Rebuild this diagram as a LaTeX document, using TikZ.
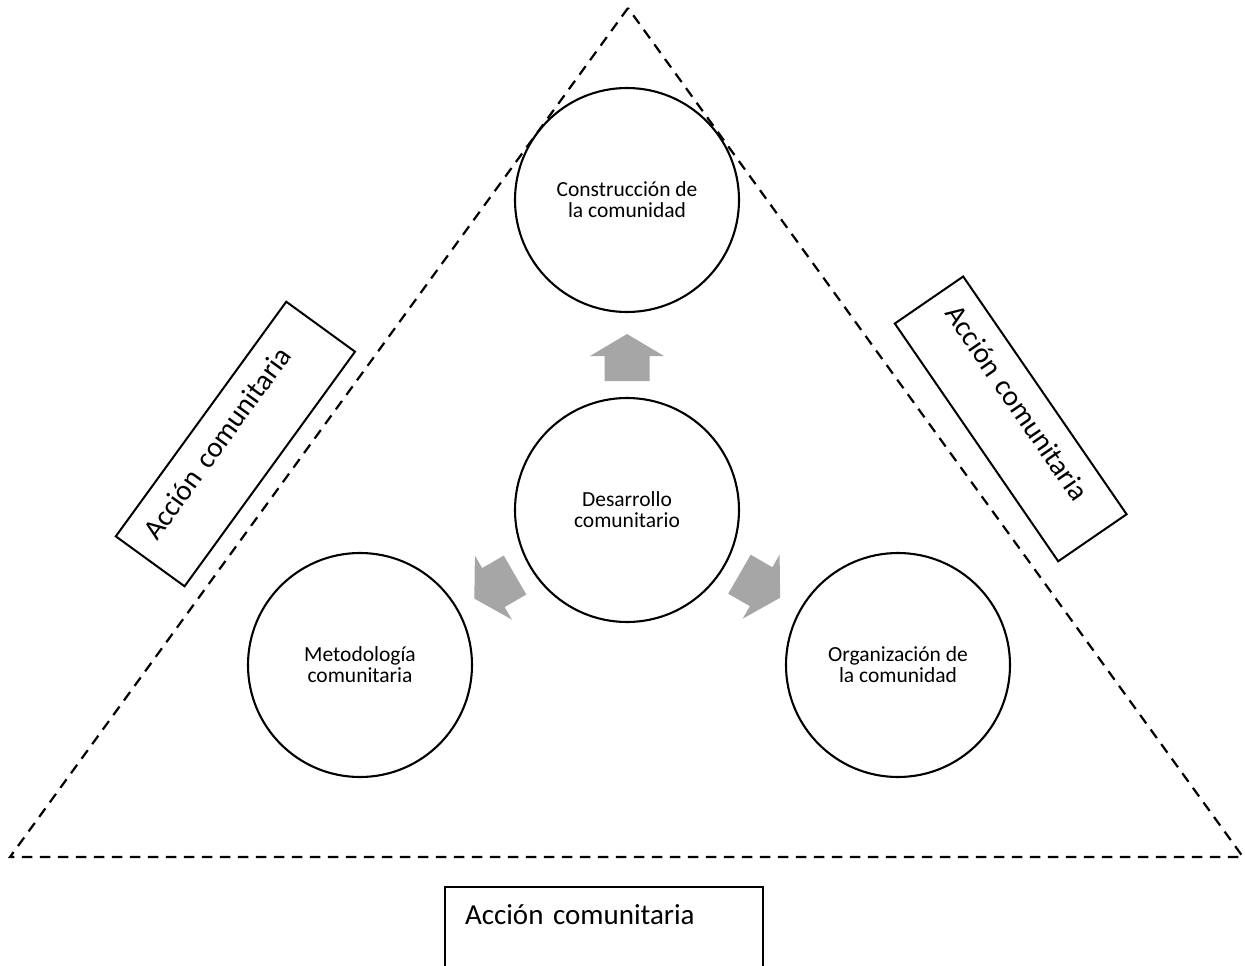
\documentclass[tikz,border=0pt]{standalone}
\usepackage{fontspec}
\setmainfont{Carlito}
\usetikzlibrary{calc}
\definecolor{arrowgray}{RGB}{166,166,166}

\tikzset{
  bubble/.style={circle, draw, line width=2.1pt, minimum size=224pt,
    inner sep=0pt, align=center, font=\fontsize{21.5}{21}\selectfont},
  tagbox/.style={draw, line width=2pt, inner xsep=20pt, inner ysep=0pt,
    text height=37pt, align=left, font=\fontsize{29}{34}\selectfont},
  frameline/.style={line width=2.2pt, dash pattern=on 10.5pt off 7.5pt, line join=miter},
  blockarrow/.pic={
    \fill[arrowgray] (0,23.5) -- (37,1.5) -- (22.5,1.5) -- (22.5,-23.5)
      -- (-22.5,-23.5) -- (-22.5,1.5) -- (-37,1.5) -- cycle;
  }
}

\begin{document}
\begin{tikzpicture}[x=1pt, y=1pt]
  \path[use as bounding box, clip] (0,0) rectangle (1245,-966);

  % dashed frame
  \coordinate (apex) at (628,-8);
  \coordinate (bl) at (10,-857);
  \coordinate (br) at (1243,-857);
  \draw[frameline] (apex) -- (bl) -- (br) -- cycle;

  % circles
  \node[bubble] (top) at (627,-200) {Construcción de\\la comunidad};
  \node[bubble] (dev) at (627,-510) {Desarrollo\\comunitario};
  \node[bubble] (met) at (360,-665) {Metodología\\comunitaria};
  \node[bubble] (org) at (898,-665) {Organización de\\la comunidad};

  % block arrows from the centre circle
  \pic[rotate=0] at ($(dev)!152.5pt!(top)$) {blockarrow};
  \pic[rotate=120] at ($(dev)!153pt!(met)$) {blockarrow};
  \pic[rotate=-120] at ($(dev)!153pt!(org)$) {blockarrow};

  % text boxes
  \node[tagbox, rotate=54, text width=250pt, text depth=48pt] (lbox)
    at (235.4,-444) {Acción comunitaria};
  \node[tagbox, rotate=-55.5, text width=248.5pt, text depth=46pt] (rbox)
    at (1010.7,-418.9) {Acción comunitaria};
  \node[tagbox, anchor=north, text width=278pt, text depth=60pt] (bbox)
    at (604,-886) {Acción comunitaria};
\end{tikzpicture}
\end{document}
